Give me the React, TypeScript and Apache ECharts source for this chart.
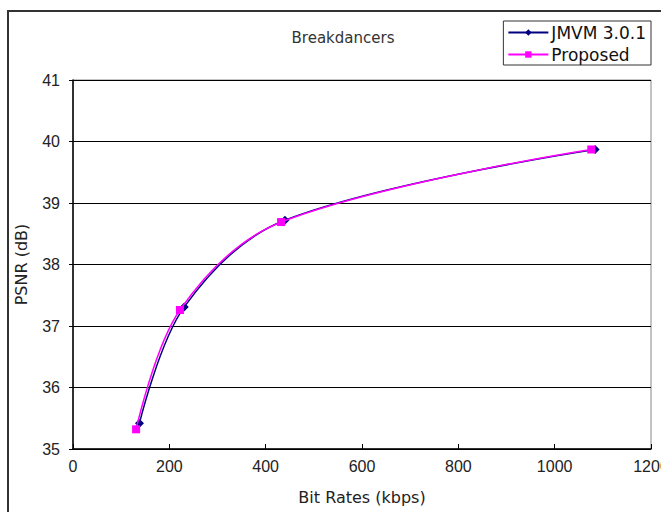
import React, { useEffect, useRef } from "react";
import * as echarts from "echarts";

const seriesNames = ["JMVM 3.0.1", "Proposed"];
const jmvmData: [number, number][] = [
  [138, 35.42],
  [231, 37.31],
  [440, 38.72],
  [1084, 39.87],
];
const proposedData: [number, number][] = [
  [131, 35.32],
  [222, 37.26],
  [432, 38.69],
  [1076, 39.87],
];
const titleText = "Breakdancers";
const xAxisName = "Bit Rates (kbps)";
const yAxisName = "PSNR (dB)";

const FONT = "'Liberation Sans', Arial, sans-serif";
const WIDE = "'DejaVu Sans', sans-serif";

export default function App() {
  const ref = useRef<HTMLDivElement>(null);
  useEffect(() => {
    if (!ref.current) return;
    const chart = echarts.init(ref.current, undefined, { renderer: "svg" });
    chart.setOption({
      animation: false,
      backgroundColor: "#fff",
      textStyle: { fontFamily: FONT },
      title: {
        text: titleText,
        left: 338,
        top: 25,
        textAlign: "center",
        textStyle: { fontSize: 15, fontWeight: "normal", color: "#333", fontFamily: WIDE },
      },
      legend: {
        data: seriesNames,
        orient: "vertical",
        right: 10,
        top: 21,
        itemWidth: 40,
        itemHeight: 8,
        itemGap: 5,
        padding: [3, 5, 2, 4],
        borderColor: "#333",
        borderWidth: 1,
        backgroundColor: "#fff",
        textStyle: { fontSize: 17, color: "#111", fontFamily: WIDE, padding: [0, 0, 0, -2] },
      },
      graphic: [
        {
          type: "rect",
          shape: { x: 8, y: 11, width: 720, height: 620 },
          style: { fill: "none", stroke: "#333", lineWidth: 2 },
          silent: true,
          z: -10,
        },
      ],
      grid: {
        left: 73,
        top: 80,
        right: 10,
        bottom: 63,
        show: true,
        borderColor: "#888",
        borderWidth: 1,
        outerBoundsMode: "none",
        containLabel: false,
      },
      xAxis: {
        type: "value",
        min: 0,
        max: 1200,
        interval: 200,
        name: xAxisName,
        nameLocation: "middle",
        nameGap: 40,
        nameTextStyle: { fontSize: 16, color: "#222", fontFamily: WIDE },
        axisLine: { show: true, lineStyle: { color: "#000", width: 1.5 } },
        axisTick: { show: true, inside: true, length: 5, lineStyle: { color: "#000" } },
        axisLabel: {
          fontSize: 16,
          color: "#222",
          margin: 9,
          fontFamily: FONT,
          formatter: (v: number) => String(v),
        },
        splitLine: { show: false },
      },
      yAxis: {
        type: "value",
        min: 35,
        max: 41,
        interval: 1,
        name: yAxisName,
        nameLocation: "middle",
        nameGap: 44,
        nameRotate: 90,
        nameTextStyle: { fontSize: 16, color: "#222", fontFamily: WIDE },
        axisLine: { show: true, lineStyle: { color: "#000", width: 1.5 } },
        axisTick: { show: true, inside: false, length: 4, lineStyle: { color: "#000" } },
        axisLabel: { fontSize: 16, color: "#222", margin: 13, fontFamily: FONT },
        splitLine: { show: true, lineStyle: { color: "#000", width: 1 } },
      },
      series: [
        {
          name: seriesNames[0],
          type: "line",
          data: jmvmData,
          smooth: 0.35,
          symbol: "diamond",
          symbolSize: 9,
          itemStyle: { color: "#000080" },
          lineStyle: { color: "#000080", width: 1.5 },
          z: 2,
        },
        {
          name: seriesNames[1],
          type: "line",
          data: proposedData,
          smooth: 0.35,
          symbol: "rect",
          symbolSize: 8,
          itemStyle: { color: "#ff00ff" },
          lineStyle: { color: "#ff00ff", width: 1.5 },
          z: 3,
        },
      ],
    });
    return () => chart.dispose();
  }, []);
  return (
    <div
      ref={ref}
      style={{ position: "absolute", left: 0, top: 0, width: 661, height: 512 }}
    />
  );
}
